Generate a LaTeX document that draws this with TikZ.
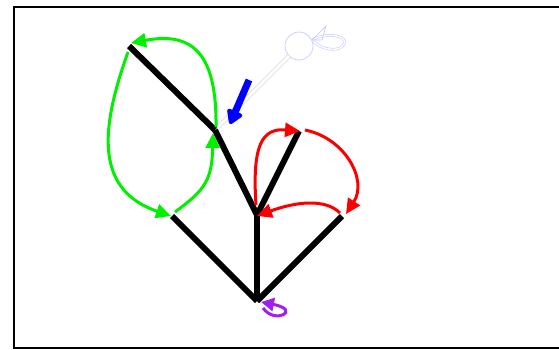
\documentclass[tikz,border=0pt]{standalone}
\usetikzlibrary{arrows.meta}
\definecolor{grn}{RGB}{0,240,0}
\definecolor{rd}{RGB}{250,0,0}
\definecolor{pur}{RGB}{160,32,240}
\definecolor{lav}{RGB}{200,200,255}
\begin{document}
\begin{tikzpicture}[x=1pt,y=-1pt,
  trunk/.style={line width=6pt, black},
  garc/.style={grn, line width=3pt, -{Triangle[length=15pt,width=14pt]}},
  rarc/.style={rd, line width=3pt, -{Triangle[length=15pt,width=14pt]}},
  parc/.style={pur, line width=3pt, -{Triangle[length=13pt,width=13pt]}}]
\useasboundingbox (0,0) rectangle (559,349);
\draw[line width=2.5pt] (580,7) -- (14,7) -- (14,348) -- (580,348);
\coordinate (R) at (257,301);
\coordinate (L) at (172,216);
\coordinate (M) at (257,215);
\coordinate (Rt) at (342,216);
\coordinate (A) at (215,130);
\coordinate (T) at (129,46);
\coordinate (B) at (299,131);
\node[circle, draw=lav, line width=0.7pt, minimum size=28pt, inner sep=0pt] (C) at (299,46) {};
% gray double line
\draw[draw=gray!25, double=white, double distance=2.5pt, line width=1pt] (A) -- (C);
% trunks
\draw[trunk] (R) -- (L);
\draw[trunk] (R) -- (M);
\draw[trunk] (R) -- (Rt);
\draw[trunk] (M) -- (A);
\draw[trunk] (M) -- (B);
\draw[trunk] (A) -- (T);
% circle loop
\draw[lav, line width=0.6pt, double=white, double distance=1.4pt]
  (312,40) .. controls (330,30) and (355,38) .. (340,48) .. controls (330,52) and (318,46) .. (314,42);
\draw[lav, line width=0.7pt] (312,40) -- (326,26) -- (322,40) -- cycle;
% blue arrow
\coordinate (b1) at (249,80);
\coordinate (b2) at (230,124);
\draw[blue, line width=7pt, line join=round, -{Triangle[length=16pt,width=18pt,round]}] (b1) -- (b2);
% green
\draw[garc] (216,127) .. controls (217,50) and (190,32) .. (131,43);
\draw[garc] (128,52) .. controls (100,130) and (95,190) .. (171,216);
\draw[garc] (175,212) .. controls (205,190) and (212,180) .. (213,133);
% red
\draw[rarc] (256,205) .. controls (252,145) and (262,128) .. (300,131);
\draw[rarc] (305,130) .. controls (345,138) and (368,180) .. (346,214);
\draw[rarc] (340,213) .. controls (325,198) and (295,202) .. (257,216);
% purple
\draw[parc] (263,308) .. controls (275,325) and (302,310) .. (261,302);
\end{tikzpicture}
\end{document}
